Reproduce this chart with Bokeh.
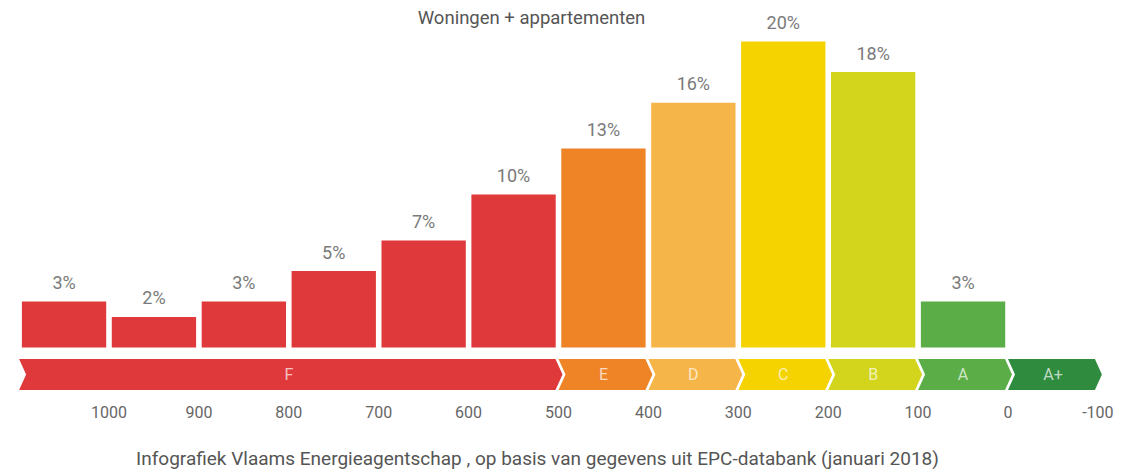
from bokeh.plotting import figure
from bokeh.models import Range1d
from bokeh.core.properties import value
from bokeh.embed import file_html
from bokeh.resources import INLINE

# ---------------- data ----------------
bin_left = [1100, 1000, 900, 800, 700, 600, 500, 400, 300, 200, 100]
bin_right = [1000, 900, 800, 700, 600, 500, 400, 300, 200, 100, 0]
shares = [3, 2, 3, 5, 7, 10, 13, 16, 20, 18, 3]
bar_class = ["F", "F", "F", "F", "F", "F", "E", "D", "C", "B", "A"]

classes = ["F", "E", "D", "C", "B", "A", "A+"]
class_start = [1100, 500, 400, 300, 200, 100, 0]
class_end = [500, 400, 300, 200, 100, 0, -100]
class_colors = ["#E0393B", "#EE8426", "#F6B548", "#F4D300", "#D3D51C", "#5BAD47", "#2F8B3E"]

tick_values = [1000, 900, 800, 700, 600, 500, 400, 300, 200, 100, 0, -100]
tick_labels = ["1000", "900", "800", "700", "600", "500", "400", "300", "200", "100", "0", "-100"]

title_text = "Woningen + appartementen"
footer_text = "Infografiek Vlaams Energieagentschap , op basis van gegevens uit EPC-databank (januari 2018)"

# ---------------- layout helpers ----------------
W, H = 1141, 473
PX_PER_UNIT = 0.899        # horizontal pixels per kWh/m2 unit
X_REF_PX, X_REF_V = 108.5, 1000
PX_PER_PCT = 15.3
BASE_PX = 347


def vx(px):
    return X_REF_V - (px - X_REF_PX) / PX_PER_UNIT


def vy(py):
    return (BASE_PX - py) / PX_PER_PCT


def dx(dpx):
    # pixel shift to the right -> value shift (axis reversed)
    return -dpx / PX_PER_UNIT


FONT = value("Roboto")

p = figure(width=W, height=H, x_range=Range1d(vx(0), vx(W)), y_range=Range1d(vy(H), vy(0)),
           output_backend="svg", toolbar_location=None, x_axis_type=None, y_axis_type=None,
           min_border=0, outline_line_color=None, background_fill_color="white",
           border_fill_color="white")
p.grid.visible = False

color_of = dict(zip(classes, class_colors))

# bars
centers = [(a + b) / 2 for a, b in zip(bin_left, bin_right)]
widths = [abs(a - b) - 6.2 for a, b in zip(bin_left, bin_right)]
p.vbar(x=centers, top=shares, bottom=0, width=widths,
       fill_color=[color_of[c] for c in bar_class], line_color=None)

p.text(x=centers, y=shares, text=[f"{s}%" for s in shares], y_offset=-19,
       text_align="center", text_baseline="middle", text_font=FONT,
       text_font_size="18px", text_color="#7a7a7a")

# chevron band
band_top, band_bot, band_mid = vy(358.5), vy(389.5), vy(374)
xs, ys = [], []
for a, b in zip(class_start, class_end):
    xs.append([a + dx(0), b + dx(-3), b + dx(4), b + dx(-3), a + dx(0), a + dx(7)])
    ys.append([band_top, band_top, band_mid, band_bot, band_bot, band_mid])
p.patches(xs, ys, fill_color=class_colors, line_color=None)

p.text(x=[(a + b) / 2 for a, b in zip(class_start, class_end)], y=[band_mid] * len(classes),
       text=classes, text_align="center", text_baseline="middle", text_font=FONT,
       text_font_size="16px", text_color="white", text_alpha=0.7)

# tick labels
p.text(x=tick_values, y=[vy(411)] * len(tick_values), text=tick_labels,
       text_align="center", text_baseline="middle", text_font=FONT,
       text_font_size="16px", text_color="#666666")

# title and footer
p.text(x=[vx(531)], y=[vy(17)], text=[title_text], text_align="center",
       text_baseline="middle", text_font=FONT, text_font_size="18.5px", text_color="#555555")
p.text(x=[vx(537)], y=[vy(458)], text=[footer_text], text_align="center",
       text_baseline="middle", text_font=FONT, text_font_size="19px", text_color="#555555")

open("out.html", "w").write(file_html(p, INLINE))
